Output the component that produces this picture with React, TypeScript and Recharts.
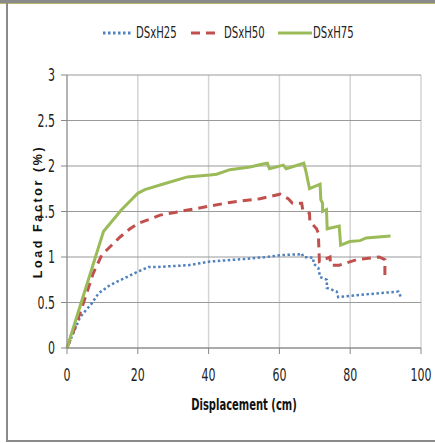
import { CartesianGrid, Line, LineChart, XAxis, YAxis } from 'recharts';

// DSxH25 (blue, dotted)
const h25X = [0, 3.7, 7, 8.9, 12.1, 16.9, 20.1, 23, 25.3, 34.3, 40.4, 50.8, 56.4, 60.2, 65.8, 66.3, 66.8, 69.6, 69.6, 71, 71.5, 73.4, 73.4, 76.2, 76.6, 84.7, 93.6, 94.3];
const h25Y = [0, 0.34, 0.49, 0.6, 0.69, 0.78, 0.84, 0.89, 0.89, 0.91, 0.95, 0.98, 1.0, 1.02, 1.03, 1.04, 1.0, 0.99, 0.93, 0.88, 0.78, 0.75, 0.66, 0.62, 0.56, 0.59, 0.62, 0.56];

// DSxH50 (red, dashed)
const h50X = [0, 2.3, 4.6, 7.4, 9.8, 12.1, 15, 17.8, 20.1, 23, 26.3, 33.3, 40.4, 46, 54.5, 60.2, 62.5, 63.7, 66.3, 66.6, 68.5, 68.6, 70.5, 71, 71.3, 74.3, 74.5, 76.9, 81.8, 88.2, 89.8, 89.8];
const h50Y = [0, 0.23, 0.49, 0.82, 1.02, 1.11, 1.22, 1.31, 1.37, 1.41, 1.46, 1.51, 1.56, 1.6, 1.64, 1.69, 1.64, 1.59, 1.59, 1.52, 1.48, 1.39, 1.31, 1.26, 0.95, 1.0, 0.91, 0.91, 0.97, 1.0, 0.97, 0.78];

// DSxH75 (green, solid)
const h75X = [0, 10.3, 15.4, 20, 22, 27, 34, 40.4, 42.3, 46, 51.7, 55, 56.6, 57.2, 61.1, 61.9, 66.9, 67.5, 68.5, 71.5, 71.7, 72.2, 72.2, 73.3, 73.5, 76.9, 77.3, 79.9, 82.8, 84.5, 91.4];
const h75Y = [0, 1.28, 1.52, 1.7, 1.74, 1.8, 1.88, 1.9, 1.91, 1.96, 1.99, 2.02, 2.03, 1.97, 2.01, 1.97, 2.03, 1.94, 1.75, 1.8, 1.63, 1.59, 1.5, 1.52, 1.31, 1.34, 1.13, 1.17, 1.18, 1.21, 1.23];

const xTicks = [0, 20, 40, 60, 80, 100];
const yTicks = [0, 0.5, 1, 1.5, 2, 2.5, 3];

const toRows = (xs: number[], ys: number[]) => xs.map((x, i) => ({ x, y: ys[i] }));

const tickFont = '"Liberation Sans Narrow", "DejaVu Sans Condensed", sans-serif';

const XTick = ({ x, y, payload }: any) => (
  <g transform={`translate(${x},${y + 13})`}>
    <text transform="scale(0.72,1)" textAnchor="middle" fontSize={17} fill="#222" fontFamily={tickFont}>
      {payload.value}
    </text>
  </g>
);

const YTick = ({ x, y, payload }: any) => (
  <g transform={`translate(${x},${y + 6})`}>
    <text transform="scale(0.72,1)" textAnchor="end" fontSize={17} fill="#222" fontFamily={tickFont}>
      {payload.value}
    </text>
  </g>
);

const legendItems = [
  { name: 'DSxH25', color: '#4f81bd', dash: '2.5 2.5', x1: 103, x2: 131, tx: 136 },
  { name: 'DSxH50', color: '#c0504d', dash: '9 6', x1: 191, x2: 216, tx: 224 },
  { name: 'DSxH75', color: '#9bbb59', dash: undefined, x1: 278, x2: 312, tx: 313 },
];

export default function App() {
  return (
    <div style={{ position: 'absolute', left: 0, top: 0, width: 435, height: 443, background: '#fff', overflow: 'hidden' }}>
      <div style={{ position: 'absolute', left: 0, top: 0, width: 435, height: 3, background: '#8a8a8a' }} />
      <div style={{ position: 'absolute', left: 0, top: 3, width: 435, height: 1, background: '#b5b86a' }} />
      <div style={{ position: 'absolute', left: 6, top: 3, width: 2, height: 439, background: '#8a8a8a' }} />
      <div style={{ position: 'absolute', left: 6, top: 440, width: 429, height: 2, background: '#8a8a8a' }} />
      <LineChart width={435} height={443} margin={{ top: 75, right: 14, left: 0, bottom: 0 }}>
        <CartesianGrid horizontal={false} stroke="#d4d4d4" strokeWidth={1.5} />
        <CartesianGrid vertical={false} stroke="#9a9a9a" strokeWidth={1.2} />
        <XAxis
          type="number"
          dataKey="x"
          domain={[0, 100]}
          ticks={xTicks}
          height={95}
          stroke="#888"
          tickSize={6}
          tickMargin={14}
          tick={<XTick />}
          label={{
            content: ({ viewBox }: any) => (
              <g transform={`translate(${viewBox.x + viewBox.width / 2},${viewBox.y + 62})`}>
                <text transform="scale(0.74,1)" textAnchor="middle" fontFamily={tickFont} fontSize={15} fontWeight={600} fill="#111">
                  Displacement (cm)
                </text>
              </g>
            ),
          }}
        />
        <YAxis
          type="number"
          dataKey="y"
          domain={[0, 3]}
          ticks={yTicks}
          width={67}
          stroke="#888"
          tickSize={6}
          tickMargin={6}
          tick={<YTick />}
          label={{
            content: ({ viewBox }: any) => (
              <text
                transform={`translate(${viewBox.x + viewBox.width / 2 + 4},${viewBox.y + viewBox.height / 2}) rotate(-90)`}
                textAnchor="middle"
                dominantBaseline="central"
                fontFamily='"Liberation Sans", Arial, sans-serif'
                fontSize={12.5}
                fontWeight="bold"
                letterSpacing={2.6}
                fill="#111"
              >
                Load Factor (%)
              </text>
            ),
          }}
        />
        <Line data={toRows(h25X, h25Y)} dataKey="y" name="DSxH25" type="linear" stroke="#4f81bd" strokeWidth={2.5} strokeDasharray="2.5 2.5" dot={false} isAnimationActive={false} />
        <Line data={toRows(h50X, h50Y)} dataKey="y" name="DSxH50" type="linear" stroke="#c0504d" strokeWidth={3} strokeDasharray="9 6" dot={false} isAnimationActive={false} />
        <Line data={toRows(h75X, h75Y)} dataKey="y" name="DSxH75" type="linear" stroke="#9bbb59" strokeWidth={3} dot={false} isAnimationActive={false} />
      </LineChart>
      <svg width={435} height={60} style={{ position: 'absolute', left: 0, top: 0 }}>
        {legendItems.map((it) => (
          <g key={it.name}>
            <line x1={it.x1} x2={it.x2} y1={33} y2={33} stroke={it.color} strokeWidth={3} strokeDasharray={it.dash} />
            <g transform={`translate(${it.tx},38)`}>
              <text transform="scale(0.75,1)" fontSize={15} fill="#222" fontFamily={tickFont}>
                {it.name}
              </text>
            </g>
          </g>
        ))}
      </svg>
    </div>
  );
}
